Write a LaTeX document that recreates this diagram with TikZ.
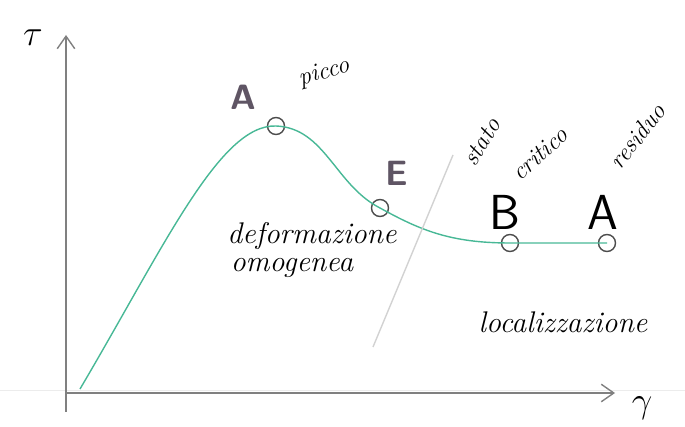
\documentclass[tikz,border=0pt]{standalone}
\usepackage{amsmath}
\usepackage{xcolor}
\usepackage{tikz}
\usetikzlibrary{arrows.meta,positioning,calc}

\definecolor{curvegreen}{RGB}{72,184,150}
\definecolor{inkpurple}{RGB}{95,85,100}

\begin{document}
\begin{tikzpicture}[x=0.2mm,y=-0.2mm,font=\itshape,
   axis/.style={gray,thick,-{Straight Barb[length=2.5mm,width=3.5mm]}},
   pt/.style={circle,draw=black!70,thick,minimum size=3.4mm,inner sep=0pt},
   lbl/.style={font=\fontsize{17}{19}\selectfont\itshape},
   small/.style={font=\fontsize{14}{15}\selectfont\itshape,inner sep=1pt},
   big/.style={font=\fontsize{28}{30}\selectfont\sffamily,inner sep=1pt},
   scrib/.style={font=\fontsize{20}{22}\selectfont\bfseries\sffamily,text=inkpurple}]
  \useasboundingbox (0,0) rectangle (685,427);
  % faint scan line
  \draw[gray!15] (0,390) -- (685,390);
  % axes
  \coordinate (o) at (66,393);
  \coordinate (xe) at (615,393);
  \coordinate (ye) at (66,35);
  \draw[axis] (66,412) -- (ye);
  \draw[axis] (o) -- (xe);
  \node (tau) at (33,38) {\fontsize{20}{22}\selectfont$\tau$};
  \node (gam) at (642,408) {\fontsize{22}{24}\selectfont$\gamma$};
  % points on the curve
  \coordinate (c0) at (80,389);
  \node[pt] (pk) at (276,126) {};
  \node[pt] (pe) at (380,208) {};
  \node[pt] (pb) at (510,243) {};
  \node[pt] (pa) at (607,243) {};
  \draw[curvegreen,thick] (c0) .. controls (165,245) and (220,124) .. (pk.center)
     .. controls (325,128) and (335,185) .. (pe.center)
     .. controls (420,230) and (450,243) .. (pb.center) -- (pa.center);
  % border between zones
  \coordinate (s1) at (453,155);
  \coordinate (s2) at (373,347);
  \draw[gray!35,thick] (s1) -- (s2);
  % labels
  \node[small,rotate=15] (picco) at (324,73) {picco};
  \node[scrib] (ka) at (243,97) {A};
  \node[scrib] (ke) at (397,173) {E};
  \node[small,rotate=60] (stato) at (482,142) {stato};
  \node[small,rotate=42] (crit) at (540,154) {critico};
  \node[small,rotate=52] (res) at (637,136) {residuo};
  \node[big] (lb) at (505,212) {B};
  \node[big] (la) at (603,212) {A};
  \node[lbl] (def) at (312,236) {deformazione};
  \node[lbl] (omo) at (292,268) {omogenea};
  \node[lbl] (loc) at (563,322) {localizzazione};
\end{tikzpicture}
\end{document}
